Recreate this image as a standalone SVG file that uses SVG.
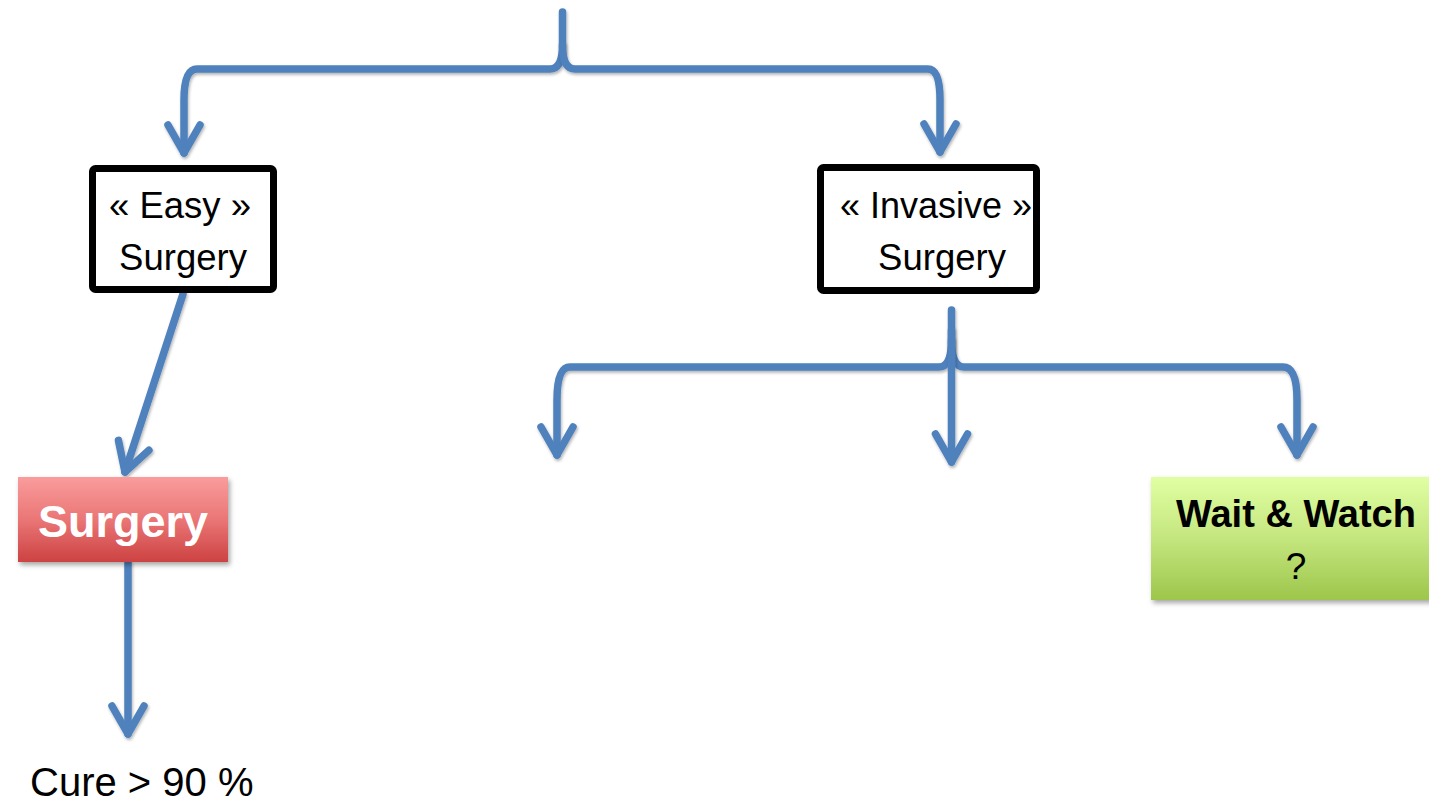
<svg xmlns="http://www.w3.org/2000/svg" width="1429" height="804" viewBox="0 0 1429 804">
<style>
.conn{fill:none;stroke:#4F81BD;stroke-width:7.5;stroke-linecap:round;stroke-linejoin:round;filter:url(#sh);}
.box{fill:#fff;stroke:#000;stroke-width:7;}
.t{font-family:"Liberation Sans",Arial,sans-serif;font-size:36.5px;fill:#000;text-anchor:middle;}
.b{font-weight:bold;}
</style>
<defs>
<marker id="arr" markerUnits="userSpaceOnUse" markerWidth="40" markerHeight="40" refX="0" refY="0" orient="auto" overflow="visible">
<path d="M-28,-16 L0,0 L-28,16" fill="none" stroke="#4F81BD" stroke-width="7.5" stroke-linecap="round" stroke-linejoin="round"/>
</marker>
<filter id="sh" filterUnits="userSpaceOnUse" x="0" y="0" width="1429" height="804">
<feDropShadow dx="1" dy="2" stdDeviation="1.5" flood-color="#000" flood-opacity="0.3"/>
</filter>
<filter id="bsh" filterUnits="userSpaceOnUse" x="0" y="0" width="1429" height="804">
<feDropShadow dx="2" dy="3" stdDeviation="2.5" flood-color="#000" flood-opacity="0.35"/>
</filter>
<linearGradient id="red" x1="0" y1="0" x2="0" y2="1">
<stop offset="0" stop-color="#FA9C9C"/>
<stop offset="0.5" stop-color="#EA7676"/>
<stop offset="1" stop-color="#CD4242"/>
</linearGradient>
<linearGradient id="green" x1="0" y1="0" x2="0" y2="1">
<stop offset="0" stop-color="#E0FFA3"/>
<stop offset="0.5" stop-color="#C4E67E"/>
<stop offset="1" stop-color="#9DC64B"/>
</linearGradient>
</defs>

<g id="connectors">
<path class="conn" d="M562.5,12 V45 C562.5,62 558,69 550,69 H197 Q184,69 184,100 V153" marker-end="url(#arr)"/>
<path class="conn" d="M562.5,45 C562.5,62 567,69 575,69 H928 Q940,69 940,100 V152" marker-end="url(#arr)"/>
<path class="conn" d="M183,294 L125,472" marker-end="url(#arr)"/>
<path class="conn" d="M128,563 V734" marker-end="url(#arr)"/>
<path class="conn" d="M951.5,310 V340 C951.5,358 947,367 939,367 H570 Q557,367 557,400 V455" marker-end="url(#arr)"/>
<path class="conn" d="M951.5,340 C951.5,358 956,367 964,367 H1283 Q1297,367 1297,400 V455" marker-end="url(#arr)"/>
<path class="conn" d="M951.5,330 V462" marker-end="url(#arr)"/>
</g>

<g id="easy">
<rect class="box" x="92.5" y="168.5" width="181" height="121" rx="3"/>
<text class="t" x="180" y="218">« Easy »</text>
<text class="t" x="183" y="270">Surgery</text>
</g>

<g id="invasive">
<rect class="box" x="820.5" y="167.5" width="216" height="123" rx="3"/>
<text class="t" x="936" y="218" style="font-size:36px">« Invasive »</text>
<text class="t" x="942" y="270">Surgery</text>
</g>

<g id="surgery">
<rect x="18" y="477" width="210" height="85" fill="url(#red)" filter="url(#bsh)"/>
<text class="t b" x="123" y="537" style="font-size:45px;fill:#fff">Surgery</text>
</g>

<g id="cure">
<text class="t" x="30" y="796" style="font-size:40px;text-anchor:start">Cure &gt; 90 %</text>
</g>

<g id="wait">
<rect x="1151" y="477" width="285" height="123" fill="url(#green)" filter="url(#bsh)"/>
<text class="t b" x="1296" y="527" style="font-size:38px">Wait &amp; Watch</text>
<text class="t" x="1296" y="579" style="font-size:37px">?</text>
</g>
</svg>
